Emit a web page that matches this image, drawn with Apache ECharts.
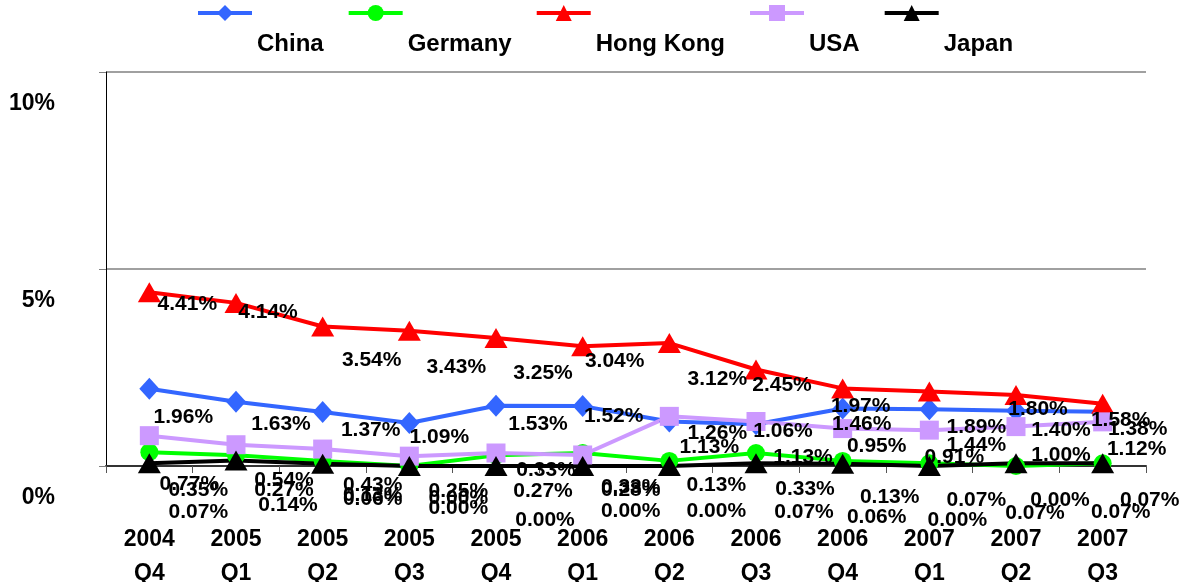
<!DOCTYPE html>
<html>
<head>
<meta charset="utf-8">
<script src="https://cdn.jsdelivr.net/npm/echarts@6/dist/echarts.min.js"></script>
<style>
  html, body { margin: 0; padding: 0; background: #ffffff; }
  #chart { width: 1194px; height: 582px; }
</style>
</head>
<body>
<div id="chart"></div>
<script>
// Quarterly shares (%) by market
const quarters = ['2004\nQ4', '2005\nQ1', '2005\nQ2', '2005\nQ3', '2005\nQ4', '2006\nQ1',
                  '2006\nQ2', '2006\nQ3', '2006\nQ4', '2007\nQ1', '2007\nQ2', '2007\nQ3'];
const seriesNames = ['China', 'Germany', 'Hong Kong', 'USA', 'Japan'];
const china    = [1.96, 1.63, 1.37, 1.09, 1.53, 1.52, 1.13, 1.06, 1.46, 1.44, 1.40, 1.38];
const germany  = [0.35, 0.27, 0.13, 0.00, 0.27, 0.33, 0.13, 0.33, 0.13, 0.07, 0.00, 0.07];
const hongKong = [4.41, 4.14, 3.54, 3.43, 3.25, 3.04, 3.12, 2.45, 1.97, 1.89, 1.80, 1.58];
const usa      = [0.77, 0.54, 0.43, 0.25, 0.33, 0.28, 1.26, 1.13, 0.95, 0.91, 1.00, 1.12];
const japan    = [0.07, 0.14, 0.06, 0.00, 0.00, 0.00, 0.00, 0.07, 0.06, 0.00, 0.07, 0.07];
const yMin = 0, yMax = 10, yStep = 5;

// Where each value label sits relative to its marker (pixels, x then y)
const labelShift = {
  'China':     [[34,28],[45,22],[48,18],[30,14],[42,18],[31,10],[40,26],[27,7],[19,16],[47,36],[45,19],[35,18]],
  'Germany':   [[49,38],[48,35],[50,34],[49,32],[47,36],[48,34],[47,24],[49,36],[47,36],[47,37],[44,34],[47,37]],
  'Hong Kong': [[38,12],[32,9],[49,34],[47,36],[47,35],[32,15],[48,36],[26,16],[18,18],[47,36],[22,14],[18,16]],
  'USA':       [[40,49],[48,35],[50,36],[49,35],[50,17],[48,35],[48,17],[47,36],[34,18],[25,27],[45,29],[34,27]],
  'Japan':     [[49,49],[52,45],[50,36],[49,42],[49,54],[48,45],[47,45],[48,49],[34,54],[28,54],[19,50],[18,49]]
};

const FONT = '"Liberation Sans", Arial, sans-serif';

const looks = {
  'China':     { color: '#3366FF', symbol: 'diamond',  size: [20, 22], values: china },
  'Germany':   { color: '#00FF00', symbol: 'circle',   size: 18,       values: germany },
  'Hong Kong': { color: '#FF0000', symbol: 'triangle', size: [23, 20], values: hongKong },
  'USA':       { color: '#CC99FF', symbol: 'rect',     size: 19,       values: usa },
  'Japan':     { color: '#000000', symbol: 'triangle', size: [23, 20], values: japan }
};

const series = seriesNames.map(function (name) {
  const s = looks[name];
  return {
    name: name,
    type: 'line',
    symbol: s.symbol,
    symbolSize: s.size,
    showAllSymbol: true,
    lineStyle: { color: s.color, width: 4 },
    itemStyle: { color: s.color },
    emphasis: { disabled: true },
    label: {
      show: true,
      position: 'inside',
      align: 'center',
      verticalAlign: 'middle',
      color: '#000000',
      fontFamily: FONT,
      fontWeight: 'bold',
      fontSize: 21,
      formatter: function (p) { return p.value.toFixed(2) + '%'; }
    },
    data: s.values.map(function (v, i) {
      return { value: v, label: { offset: labelShift[name][i] } };
    })
  };
});

const chart = echarts.init(document.getElementById('chart'), null, { renderer: 'canvas' });
chart.setOption({
  animation: false,
  backgroundColor: '#ffffff',
  legend: {
    data: seriesNames,
    left: 196,
    top: -50,
    padding: 0,
    itemGap: 23,
    itemWidth: 54,
    itemHeight: 20,
    selectedMode: false,
    lineStyle: { width: 4 },
    // names sit one line below their swatches
    formatter: function (name) { return '\n' + name; },
    textStyle: {
      fontFamily: FONT,
      fontWeight: 'bold',
      fontSize: 24,
      lineHeight: 63,
      color: '#000000'
    }
  },
  grid: { left: 106, right: 48, top: 72, bottom: 116, containLabel: false, outerBoundsMode: 'none' },
  xAxis: {
    type: 'category',
    data: quarters,
    boundaryGap: true,
    axisLine: { lineStyle: { color: '#333333', width: 2 } },
    axisTick: { show: true, length: 7, lineStyle: { color: '#555555', width: 1 } },
    axisLabel: {
      margin: 57,
      interval: 0,
      fontFamily: FONT,
      fontWeight: 'bold',
      fontSize: 23,
      lineHeight: 34,
      color: '#000000'
    },
    splitLine: { show: false }
  },
  yAxis: {
    type: 'value',
    min: yMin,
    max: yMax,
    interval: yStep,
    axisLine: { show: true, lineStyle: { color: '#000000', width: 1 } },
    axisTick: { show: true, length: 7, lineStyle: { color: '#808080', width: 1 } },
    axisLabel: {
      margin: 51,
      fontFamily: FONT,
      fontWeight: 'bold',
      fontSize: 23,
      lineHeight: 64,
      color: '#000000',
      // tick values hang half a line below their gridlines
      formatter: function (v) { return '\n' + v + '%'; }
    },
    splitLine: { show: true, lineStyle: { color: '#808080', width: 1.5 } }
  },
  series: series
});
</script>
</body>
</html>
